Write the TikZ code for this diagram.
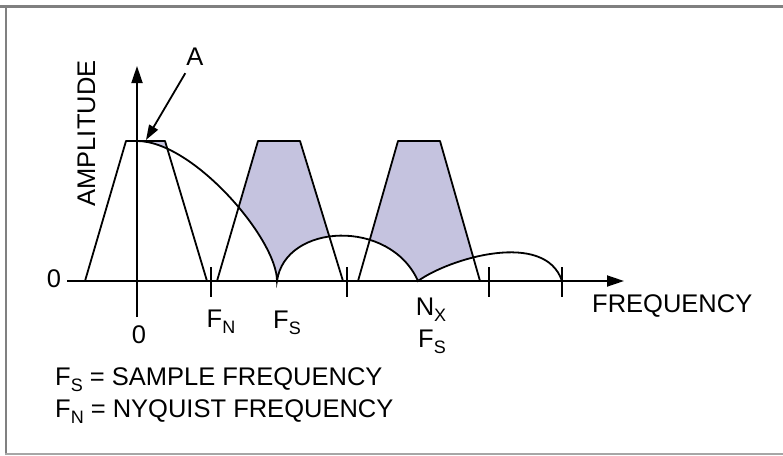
\documentclass[tikz,border=0pt]{standalone}
\usepackage{fontspec}
\setmainfont{Liberation Sans}
\usetikzlibrary{arrows.meta,calc}

\definecolor{aliasfill}{RGB}{197,195,223}
\newcommand{\lowsub}[1]{\raisebox{-6pt}{\fontsize{18}{18}\selectfont #1}}

\begin{document}
\begin{tikzpicture}[
  x=1pt, y=-1pt,
  font=\fontsize{25.5}{30}\selectfont,
  >={Triangle[length=17pt,width=11pt]},
  axis/.style={->, line width=1.8pt, black},
  band/.style={line width=1.8pt, black, line join=round},
  curve/.style={line width=1.8pt, black},
  ticks/.style={line width=1.8pt, black},
  pointer/.style={-{Triangle[length=15pt,width=10pt]}, line width=1.8pt, black},
  lbl/.style={inner sep=0pt, anchor=base},
  frame/.style={line width=#1}
]
\useasboundingbox (0,0) rectangle (783,455);

% ---------- FRAME ----------
\draw[frame=3.5pt, black!50] (0,6.5) -- (783,6.5);
\draw[frame=2.5pt, black!50] (6,5) -- (6,454);
\draw[frame=2pt, black!35]   (5,454) -- (783,454);

% ---------- AXES ----------
\coordinate (xleft)  at (67,281);
\coordinate (xright) at (624,281);
\coordinate (ybot)   at (137,317);
\coordinate (ytop)   at (137,66);

% envelope of the sampled spectrum
\def\envpath{(137,141) .. controls (193,141) and (277,239) .. (277,281)
  .. controls (285,223) and (390,218) .. (418,281)
  .. controls (450,258) and (545,230) .. (562,281)}

% shaded alias parts (inside bands, above envelope)
\begin{scope}
  \clip (85,281) -- (126,141) -- (165,141) -- (207,281) -- cycle
        (217,281) -- (258,141) -- (300,141) -- (343,281) -- cycle
        (358,281) -- (398,141) -- (440,141) -- (480,281) -- cycle;
  \fill[aliasfill] \envpath -- (562,100) -- (137,100) -- cycle;
\end{scope}

% ---------- BANDS ----------
\draw[band] (85,281)  -- (126,141) -- (165,141) -- (207,281);
\draw[band] (217,281) -- (258,141) -- (300,141) -- (343,281);
\draw[band] (358,281) -- (398,141) -- (440,141) -- (480,281);
\draw[curve] \envpath;

\draw[axis] (xleft) -- (xright);
\draw[axis] (ybot) -- (ytop);
\foreach \tx in {211,347,489,562}
  \draw[ticks] (\tx,267) -- (\tx,297);

% ---------- LABELS ----------
\node[lbl] (zeroy) at (54,287) {0};
\node[lbl] (zerox) at (139,343) {0};
\node[lbl] (fn)    at (221,327) {F\lowsub{N}};
\node[lbl] (fs)    at (287,328) {F\lowsub{S}};
\node[lbl] (nx)    at (431,315) {N\lowsub{X}};
\node[lbl] (nxfs)  at (432,347) {F\lowsub{S}};
\node[lbl, anchor=base west] (freq) at (592,312) {FREQUENCY};
\node[lbl, rotate=90] (amp) at (95,133.5) {AMPLITUDE};

\node[lbl] (A) at (195,65) {A};
\coordinate (Atip) at (146,140);
\draw[pointer] ($(A.south west)+(-1,8)$) -- (Atip);

% ---------- LEGEND ----------
\node[lbl, anchor=base west] (legfs) at (55,385) {F\lowsub{S} = SAMPLE FREQUENCY};
\node[lbl, anchor=base west] (legfn) at (55,417) {F\lowsub{N} = NYQUIST FREQUENCY};

\end{tikzpicture}
\end{document}
